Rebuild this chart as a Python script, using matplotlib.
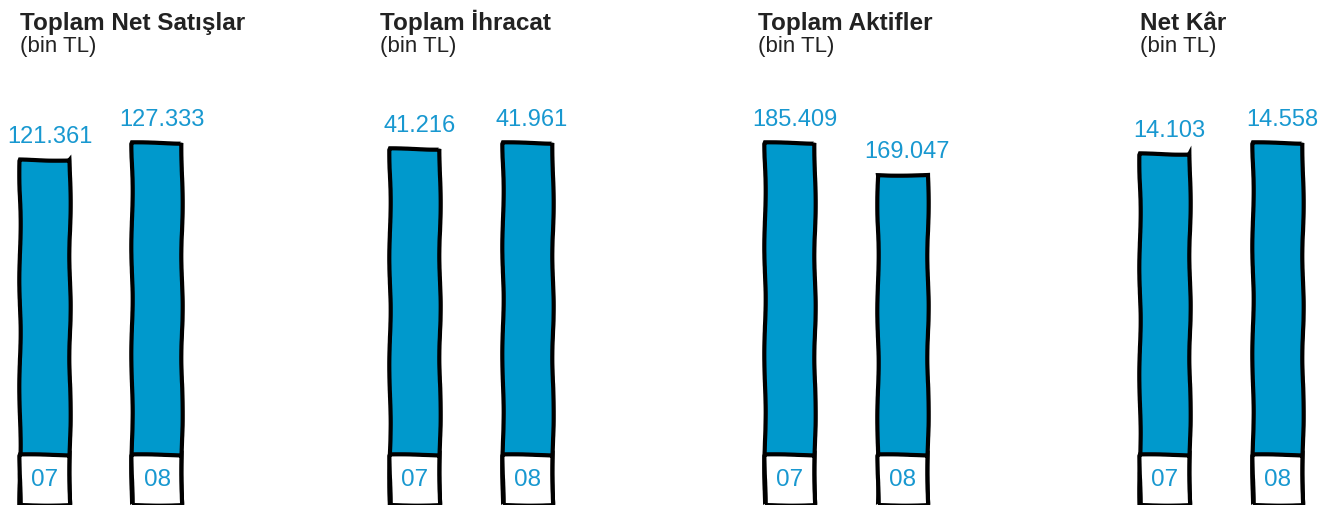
import matplotlib.pyplot as plt

# data (bin TL)
titles = ['Toplam Net Satışlar', 'Toplam İhracat', 'Toplam Aktifler', 'Net Kâr']
years = ['07', '08']
net_satis = [121361, 127333]
ihracat = [41216, 41961]
aktifler = [185409, 169047]
net_kar = [14103, 14558]
series = [net_satis, ihracat, aktifler, net_kar]

W, H = 1327, 507
blue = '#0099cc'
txtblue = '#1898d0'

plt.rcParams['font.family'] = ['Liberation Sans', 'DejaVu Sans']
fig = plt.figure(figsize=(W / 100, H / 100), dpi=100)

centers = [45, 415, 790, 1165]   # x pixel of the 07 bar centre in each panel
title_x = [20, 380, 758, 1140]   # x pixel of panel titles
step = 112.5                     # px between the two bars
ax_h = 405                       # axes height in px (bottom at 2px)
max_px = 362                     # px height of the tallest bar
box_px = 50                      # white year box

for i, vals in enumerate(series):
    left = centers[i] - 50
    ax = fig.add_axes([left / W, 2 / H, 250 / W, ax_h / H])
    ymax = max(vals) * ax_h / max_px
    ax.set_xlim(-50 / step, 200 / step)
    ax.set_ylim(0, ymax)
    ax.axis('off')
    box_h = box_px * ymax / ax_h
    xs = range(len(vals))
    bars = ax.bar(xs, vals, width=50 / step, color=blue, edgecolor='black', linewidth=3)
    boxes = ax.bar(xs, [box_h] * len(vals), width=50 / step, color='white',
                   edgecolor='black', linewidth=3)
    for p in list(bars) + list(boxes):
        p.set_sketch_params(0.7, 120, 2)
    for x, v, yr in zip(xs, vals, years):
        lab = f'{v:,}'.replace(',', '.')
        ax.annotate(lab, (x + 0.04, v), xytext=(0, 12), textcoords='offset pixels',
                    ha='center', va='bottom', color=txtblue, fontsize=17)
        ax.text(x, box_h / 2, yr, ha='center', va='center', color=txtblue, fontsize=17.5)

    fig.text(title_x[i] / W, 1 - 30 / H, titles[i], fontsize=17.5, fontweight='bold',
             color='#222222', va='baseline', ha='left')
    fig.text(title_x[i] / W, 1 - 52 / H, '(bin TL)', fontsize=16,
             color='#222222', va='baseline', ha='left')

fig.savefig('out.png', dpi=100, facecolor='white')
